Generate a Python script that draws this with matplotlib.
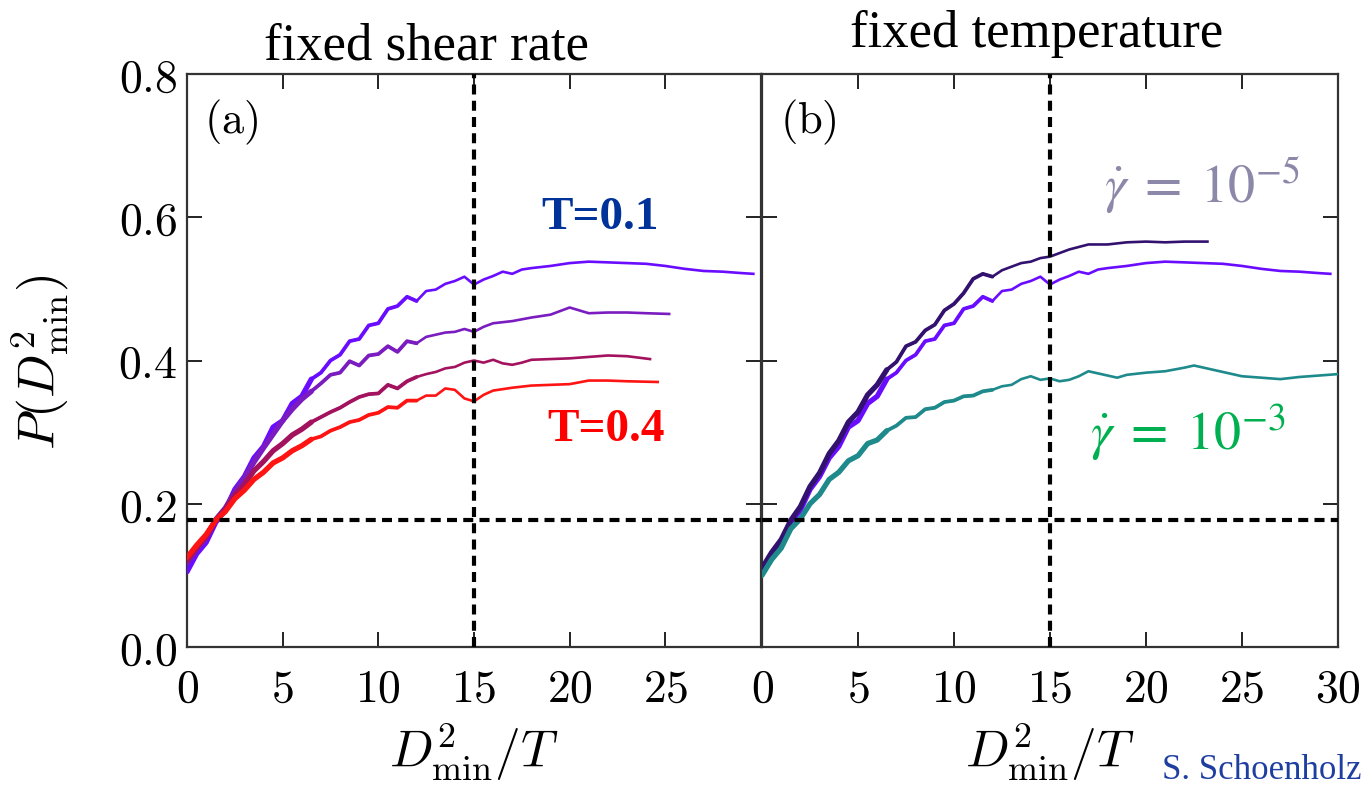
import matplotlib
matplotlib.use("Agg")
import matplotlib.pyplot as plt
from matplotlib.ticker import FuncFormatter

plt.rcParams['mathtext.fontset'] = 'cm'
plt.rcParams['font.family'] = ['DejaVu Serif']

# ---------------- data ----------------
# panel (a): fixed shear rate, four temperatures
x_T01 = [0, 0.5, 1, 1.5, 2, 2.5, 3, 3.5, 4, 4.5, 5, 5.5, 6, 6.5, 7, 7.5, 8, 8.5, 9, 9.5,
         10, 10.5, 11, 11.5, 12, 12.5, 13, 13.5, 14, 14.5, 15, 15.5, 16, 16.5, 17, 17.5,
         18, 19, 20, 21, 22, 23, 24, 25, 26, 27, 28, 29, 29.6]
y_T01 = [0.105, 0.130, 0.146, 0.174, 0.191, 0.220, 0.238, 0.264, 0.280, 0.307, 0.316, 0.340, 0.350, 0.374, 0.383, 0.400, 0.408, 0.427, 0.430, 0.449,
         0.452, 0.472, 0.476, 0.489, 0.483, 0.497, 0.499, 0.507, 0.511, 0.517, 0.506, 0.513, 0.518, 0.524, 0.521, 0.527,
         0.529, 0.532, 0.536, 0.538, 0.537, 0.536, 0.535, 0.532, 0.528, 0.525, 0.524, 0.522, 0.521]

x_T02 = [0, 0.5, 1, 1.5, 2, 2.5, 3, 3.5, 4, 4.5, 5, 5.5, 6, 6.5, 7, 7.5, 8, 8.5, 9, 9.5,
         10, 10.5, 11, 11.5, 12, 12.5, 13, 13.5, 14, 14.5, 15, 15.5, 16, 17, 18, 19, 19.5,
         20, 20.5, 21, 22, 23, 24, 25.2]
y_T02 = [0.118, 0.137, 0.153, 0.178, 0.194, 0.216, 0.236, 0.258, 0.278, 0.297, 0.316, 0.332, 0.346, 0.357, 0.368, 0.380, 0.383, 0.399, 0.393, 0.407,
         0.409, 0.420, 0.412, 0.427, 0.424, 0.433, 0.436, 0.439, 0.440, 0.444, 0.440, 0.447, 0.452, 0.455, 0.460, 0.464, 0.469,
         0.474, 0.470, 0.466, 0.467, 0.467, 0.466, 0.465]

x_T03 = [0, 0.5, 1, 1.5, 2, 2.5, 3, 3.5, 4, 4.5, 5, 5.5, 6, 6.5, 7, 7.5, 8, 8.5, 9, 9.5,
         10, 10.5, 11, 11.5, 12, 12.5, 13, 13.5, 14, 14.5, 15, 15.5, 16, 16.5, 17, 17.5,
         18, 19, 20, 21, 22, 23, 24.2]
y_T03 = [0.120, 0.138, 0.154, 0.177, 0.192, 0.212, 0.227, 0.246, 0.259, 0.274, 0.284, 0.296, 0.304, 0.314, 0.321, 0.328, 0.334, 0.342, 0.349, 0.353,
         0.354, 0.366, 0.361, 0.371, 0.377, 0.381, 0.384, 0.389, 0.391, 0.397, 0.400, 0.397, 0.401, 0.396, 0.394, 0.397,
         0.401, 0.402, 0.403, 0.405, 0.407, 0.406, 0.402]

x_T04 = [0, 0.5, 1, 1.5, 2, 2.5, 3, 3.5, 4, 4.5, 5, 5.5, 6, 6.5, 7, 7.5, 8, 8.5, 9, 9.5,
         10, 10.5, 11, 11.5, 12, 12.5, 13, 13.5, 14, 14.5, 15, 15.5, 16, 17, 18, 19, 20,
         21, 22, 23, 24.6]
y_T04 = [0.125, 0.142, 0.157, 0.177, 0.189, 0.207, 0.219, 0.234, 0.244, 0.257, 0.264, 0.274, 0.281, 0.290, 0.294, 0.302, 0.307, 0.314, 0.317, 0.324,
         0.327, 0.335, 0.334, 0.344, 0.344, 0.351, 0.351, 0.361, 0.359, 0.347, 0.343, 0.352, 0.358, 0.362, 0.365, 0.366, 0.367,
         0.372, 0.372, 0.371, 0.370]

# panel (b): fixed temperature, shear rates
x_slow = [0, 0.5, 1, 1.5, 2, 2.5, 3, 3.5, 4, 4.5, 5, 5.5, 6, 6.5, 7, 7.5, 8, 8.5, 9, 9.5,
          10, 10.5, 11, 11.5, 12, 12.5, 13, 13.5, 14, 14.5, 15, 15.5, 16, 17, 18, 19, 20,
          21, 22, 23.2]
y_slow = [0.110, 0.132, 0.150, 0.177, 0.196, 0.224, 0.243, 0.270, 0.288, 0.314, 0.328, 0.352, 0.366, 0.387, 0.398, 0.420, 0.426, 0.442, 0.450, 0.470,
          0.479, 0.494, 0.514, 0.521, 0.517, 0.526, 0.531, 0.536, 0.538, 0.543, 0.545, 0.550, 0.555, 0.562, 0.562, 0.565, 0.566,
          0.565, 0.566, 0.566]

x_fast = [0, 0.5, 1, 1.5, 2, 2.5, 3, 3.5, 4, 4.5, 5, 5.5, 6, 6.5, 7, 7.5, 8, 8.5, 9, 9.5,
          10, 10.5, 11, 11.5, 12, 12.5, 13, 13.5, 14, 14.5, 15, 15.5, 16, 16.5, 17, 17.5,
          18, 18.5, 19, 20, 21, 22, 22.5, 23, 24, 25, 26, 27, 28, 29, 30]
y_fast = [0.100, 0.122, 0.138, 0.165, 0.179, 0.200, 0.213, 0.234, 0.244, 0.260, 0.267, 0.284, 0.289, 0.302, 0.309, 0.320, 0.321, 0.332, 0.334, 0.342,
          0.344, 0.350, 0.351, 0.357, 0.359, 0.364, 0.366, 0.374, 0.378, 0.373, 0.375, 0.371, 0.373, 0.378, 0.385, 0.382,
          0.379, 0.376, 0.380, 0.383, 0.385, 0.390, 0.393, 0.390, 0.384, 0.378, 0.376, 0.374, 0.377, 0.379, 0.381]

panel_titles = ["fixed shear rate", "fixed temperature"]
panel_tags = ["(a)", "(b)"]
x_ticks = [0, 5, 10, 15, 20, 25, 30]
y_ticks = [0.0, 0.2, 0.4, 0.6, 0.8]
hline_y = 0.178
vline_x = 15

# ---------------- figure ----------------
W, H = 1366, 785
fig = plt.figure(figsize=(W / 100, H / 100), dpi=100)

def fx(px):
    return px / W

def fy(py):
    return 1 - py / H

axL = fig.add_axes([fx(187), fy(647), (761 - 187) / W, (647 - 74) / H])
axR = fig.add_axes([fx(762), fy(647), (1338 - 762) / W, (647 - 74) / H])

# the noisy low-x part of each curve is drawn as a thicker band that thins out
BANDS = [(25, 2.7), (14, 3.8)]   # (number of leading points, line width)


def curve(ax, x, y, color):
    ax.plot(x, y, color=color, lw=1.9, zorder=3, solid_joinstyle="round")
    for n, w in BANDS:
        ax.plot(x[:n], y[:n], color=color, lw=w, zorder=3,
                solid_capstyle="round", solid_joinstyle="round")


curve(axL, x_T01, y_T01, "#6a0cff")
curve(axL, x_T02, y_T02, "#7a1cbf")
curve(axL, x_T03, y_T03, "#a3125e")
curve(axL, x_T04, y_T04, "#ff1414")

curve(axR, x_T01, y_T01, "#6a0cff")
curve(axR, x_slow, y_slow, "#33126f")
curve(axR, x_fast, y_fast, "#1f8a8c")

for ax in (axL, axR):
    ax.set_xlim(0, 30)
    ax.set_ylim(0, 0.8)
    ax.axhline(hline_y, color="black", lw=3.0, dashes=(2.4, 1.5), zorder=4)
    ax.axvline(vline_x, color="black", lw=3.0, dashes=(2.4, 1.5), zorder=4)
    ax.set_xticks(x_ticks)
    ax.set_yticks(y_ticks)
    ax.xaxis.set_major_formatter(FuncFormatter(lambda v, p: f"${v:.0f}$"))
    ax.yaxis.set_major_formatter(FuncFormatter(lambda v, p: f"${v:.1f}$"))
    ax.tick_params(direction="in", length=11, width=1.4, top=True, right=True,
                   labelsize=33, color="#222222")
    ax.tick_params(axis="x", pad=14)
    ax.tick_params(axis="y", pad=7)
    for s in ax.spines.values():
        s.set_linewidth(1.6)
        s.set_color("#333333")

axR.tick_params(labelleft=False)
# the left panel's "30" would sit on the right panel's "0"
axL.set_xticklabels([f"${v}$" for v in x_ticks[:-1]] + [""])

# panel tags
fig.text(fx(231), fy(122), r"$(\mathrm{a})$", fontsize=32, ha="center", va="center")
fig.text(fx(808), fy(122), r"$(\mathrm{b})$", fontsize=32, ha="center", va="center")

# annotations
axL.text(21.6, 0.599, "T=0.1", color="#003399", fontsize=34, fontweight="bold",
         family=["Liberation Serif"], ha="center", va="center")
axL.text(21.9, 0.303, "T=0.4", color="#ff0000", fontsize=34, fontweight="bold",
         family=["Liberation Serif"], ha="center", va="center")
axR.text(17.8, 0.645, r"$\dot{\gamma}\;=\;10^{-5}$", color="#8c88aa", fontsize=39,
         math_fontfamily="stix", ha="left", va="center")
axR.text(17.1, 0.298, r"$\dot{\gamma}\;=\;10^{-3}$", color="#00b050", fontsize=39,
         math_fontfamily="stix", ha="left", va="center")

# titles
fig.text(fx(426), fy(60), panel_titles[0], fontsize=38, family=["Liberation Serif"],
         ha="center", va="baseline")
fig.text(fx(1037), fy(47), panel_titles[1], fontsize=38, family=["Liberation Serif"],
         ha="center", va="baseline")

# axis labels
fig.text(fx(40), fy(362), r"$P(D^2_{\mathrm{min}})$", fontsize=37, rotation=90,
         ha="center", va="center")
fig.text(fx(474), fy(752), r"$D^2_{\mathrm{min}}/T$", fontsize=37, ha="center", va="center")
fig.text(fx(1050), fy(752), r"$D^2_{\mathrm{min}}/T$", fontsize=37, ha="center", va="center")

# credit, kept fully inside the figure
fig.text(fx(1361), fy(779), "S. Schoenholz", fontsize=25, color="#1f3fa0",
         family=["Liberation Serif"], ha="right", va="baseline")

fig.savefig("out.png", dpi=100)
